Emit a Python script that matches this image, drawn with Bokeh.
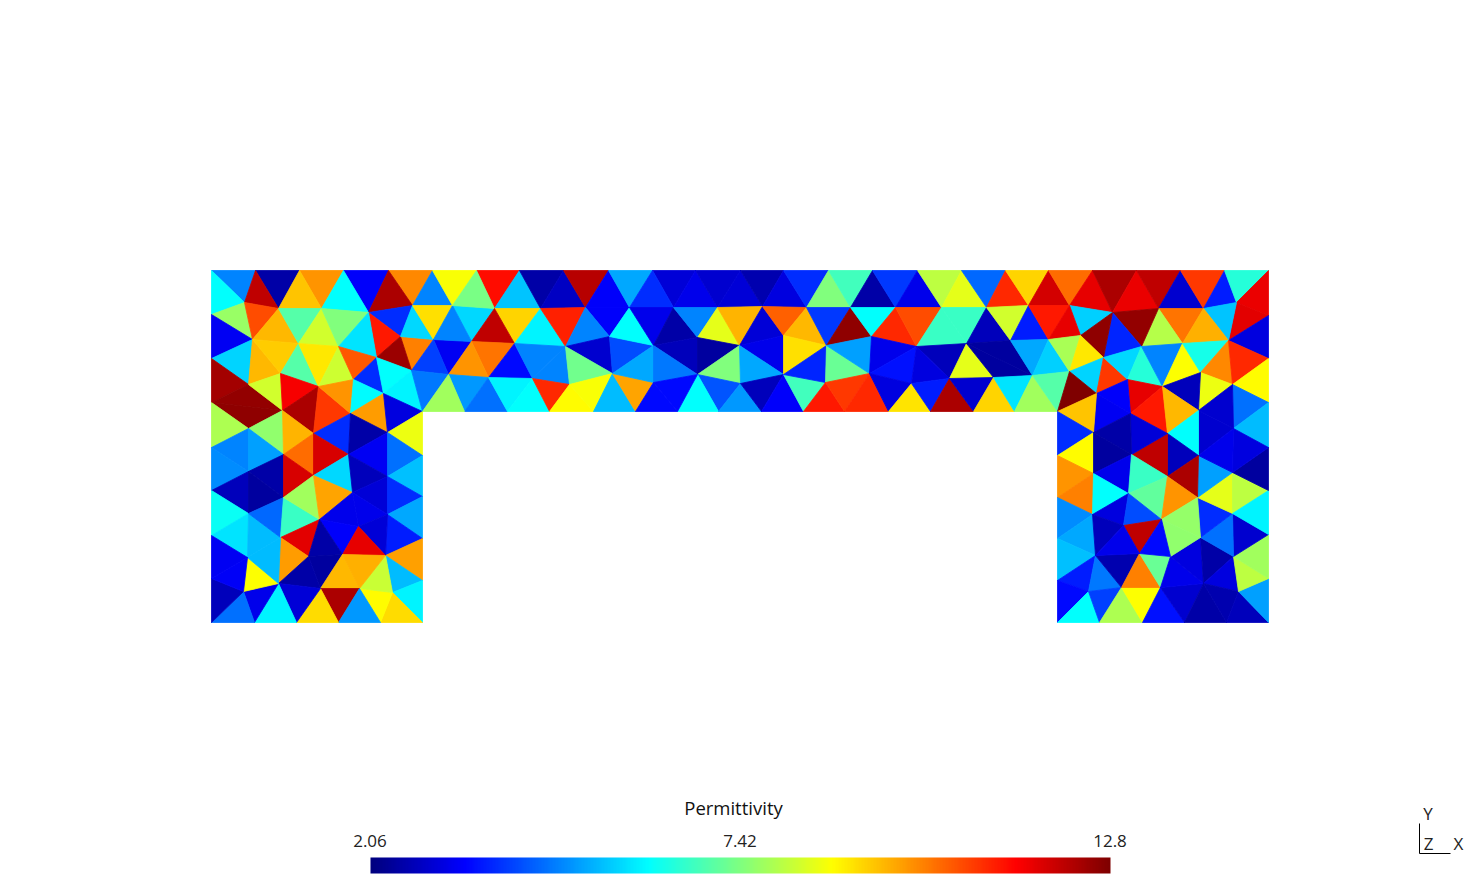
import numpy as np
from bokeh.core.properties import value
from bokeh.embed import file_html
from bokeh.models import ColumnDataSource, LinearColorMapper
from bokeh.plotting import figure
from bokeh.resources import INLINE
from bokeh.transform import transform

# mesh cells: x1, y1, x2, y2, x3, y3 (mesh units), permittivity
left_upper = [
(211,270,255,270,244,302,4.8),(211,270,244,302,211,314,6.1),(255,270,299,270,278,308,2.5),(255,270,278,308,244,302,12.1),
(299,270,343,270,321,308,9.9),(299,270,321,308,278,308,9.4),(343,270,388,270,368,312,3.4),(343,270,368,312,321,308,6.1),
(388,270,432,270,412,305,10.0),(388,270,412,305,368,312,12.3),(368,312,412,305,400,336,3.9),(368,312,400,336,376,357,11.2),
(400,336,433,339,411,370,10.1),(400,336,411,370,376,357,12.5),(412,305,433,339,400,336,5.7),
(211,314,244,302,252,339,7.7),(244,302,278,308,252,339,10.65),(278,308,298,343,252,339,9.5),(278,308,321,308,298,343,7.0),
(321,308,338,346,298,343,8.3),(321,308,368,312,338,346,7.45),(368,312,376,357,338,346,5.8),(211,314,252,339,211,358,3.3),
(211,358,252,339,248,384,5.65),(252,339,280,373,248,384,9.5),(252,339,298,343,280,373,9.3),(298,343,318,386,280,373,7.0),
(298,343,338,346,318,386,9.0),(338,346,353,379,318,386,8.25),(338,346,376,357,353,379,10.5),(376,357,383,393,353,379,3.9),
(376,357,411,370,383,393,6.1),(411,370,422,411,383,393,6.0),(211,358,248,384,211,402,12.4),(211,402,248,384,282,410,12.55),
(211,402,282,410,248,428,12.6),(248,384,280,373,282,410,8.3),(280,373,318,386,282,410,11.5),(282,410,318,386,313,433,12.3),
(318,386,350,413,313,433,10.85),(318,386,353,379,350,413,9.9),(353,379,383,393,350,413,6.05),(383,393,387,432,350,413,9.8),
(383,393,422,411,387,432,3.1),(387,432,422,411,422,455,8.6),(211,402,248,428,211,447,7.9),(248,428,282,410,283,454,7.6),
(282,410,313,433,283,454,9.55),(283,454,313,433,313,475,10.3),(313,433,350,413,348,454,3.9),(313,433,348,454,313,475,11.85),
(350,413,387,432,348,454,2.5),(348,454,387,432,387,476,3.3),(387,432,422,455,387,476,4.6),
]
left_lower = [
(211,447,248,428,248,471,4.8),(248,428,283,454,248,471,5.1),(211,447,248,471,211,490,4.9),(248,471,283,454,283,497,2.5),
(211,490,248,471,248,513,2.7),(248,471,283,497,248,513,2.4),(283,454,313,475,283,497,11.85),(313,475,348,454,352,492,5.7),
(348,454,387,476,352,492,2.7),(352,492,387,476,387,514,3.0),(387,476,422,455,422,496,5.45),(387,476,422,496,387,514,3.9),
(387,514,422,496,422,538,5.2),(387,514,422,538,385,555,3.7),(385,555,422,538,422,580,9.75),(385,555,422,580,392,592,5.4),
(392,592,422,580,422,622,6.0),(392,592,422,622,380,622,9.15),(359,588,392,592,380,622,8.8),(359,588,385,555,392,592,8.2),
(211,490,248,513,211,535,6.2),(211,535,248,513,247,557,5.8),(248,513,280,537,247,557,5.4),(248,513,283,497,280,537,4.5),
(283,497,319,519,280,537,6.7),(283,497,313,475,319,519,7.8),(313,475,352,492,319,519,9.7),(319,519,352,492,358,526,3.2),
(352,492,387,514,358,526,3.2),(358,526,387,514,385,555,3.0),(319,519,358,526,342,554,3.4),(358,526,385,555,342,554,11.7),
(280,537,319,519,308,556,11.75),(319,519,342,554,308,556,2.5),(308,556,342,554,320,588,2.4),(280,537,308,556,278,583,9.8),
(278,583,308,556,320,588,2.5),(342,554,359,588,320,588,9.5),(342,554,385,555,359,588,9.6),(320,588,359,588,338,622,12.3),
(359,588,380,622,338,622,5.0),(320,588,338,622,296,622,9.15),(278,583,320,588,296,622,3.0),(278,583,296,622,254,622,6.0),
(243,591,278,583,254,622,3.2),(211,622,243,591,254,622,4.6),(211,578,243,591,211,622,2.7),(247,557,278,583,243,591,8.75),
(247,557,280,537,278,583,5.4),(211,535,247,557,211,578,3.3),(211,578,247,557,243,591,3.35),
]
band_west = [
(432,270,452,305,412,305,4.8),(412,305,452,305,433,339,9.1),(433,339,471,341,448,374,3.3),(433,339,448,374,411,370,4.1),
(452,305,494,308,471,341,5.7),(452,305,471,341,433,339,4.8),(476,270,519,270,494,308,11.3),(432,270,476,270,452,305,8.7),
(476,270,494,308,452,305,7.35),(519,270,540,308,494,308,5.5),(519,270,563,270,540,308,2.5),(563,270,585,307,540,308,2.8),
(563,270,608,270,585,307,12.2),(608,270,629,307,585,307,3.4),(585,307,629,307,609,336,3.4),(608,270,652,270,629,307,5.2),
(494,308,540,308,514,343,9.2),(494,308,514,343,471,341,12.1),(540,308,565,346,514,343,6.0),(540,308,585,307,565,346,11.1),
(585,307,609,336,565,346,4.8),(471,341,514,343,488,377,10.2),(471,341,488,377,448,374,9.9),(514,343,532,378,488,377,3.5),
(514,343,565,346,532,378,4.8),(565,346,569,384,532,378,4.8),(565,346,609,336,612,373,2.9),(565,346,612,373,569,384,7.3),
(609,336,653,345,612,373,4.2),(629,307,653,345,609,336,6.1),(448,374,488,377,464,411,5.0),(488,377,507,411,464,411,4.6),
(411,370,448,374,422,411,4.7),(448,374,422,411,464,411,7.8),(488,377,532,378,507,411,6.0),(532,378,549,411,507,411,6.1),
(532,378,569,384,549,411,11.0),(569,384,593,411,549,411,8.8),(569,384,612,373,593,411,8.7),(612,373,635,411,593,411,5.4),
(612,373,653,382,635,411,9.7),(612,373,653,345,653,382,5.2),(635,411,653,382,677,411,3.5),
]
band_middle = [
(652,270,695,270,673,307,3.0),(652,270,673,307,629,307,3.9),(695,270,717,307,673,307,3.2),(695,270,740,270,717,307,2.9),
(740,270,762,306,717,307,3.0),(740,270,783,270,762,306,2.6),(783,270,806,307,762,306,3.1),(783,270,828,270,806,307,3.9),
(828,270,850,307,806,307,7.45),(828,270,872,270,850,307,6.8),(629,307,673,307,653,345,3.2),(673,307,697,337,653,345,2.5),
(673,307,717,307,697,337,4.8),(717,307,739,345,697,337,8.5),(717,307,762,306,739,345,9.55),(762,306,783,335,739,345,3.0),
(739,345,783,335,783,374,3.2),(762,306,806,307,783,335,10.45),(806,307,826,345,783,335,9.5),(783,335,826,345,783,374,9.1),
(806,307,850,307,826,345,4.0),(850,307,871,336,826,345,12.6),(653,345,697,337,697,374,2.7),(697,337,739,345,697,374,2.4),
(653,345,697,374,653,382,4.7),(697,374,739,345,740,383,7.45),(739,345,783,374,740,383,5.2),(697,374,740,383,718,411,4.3),
(697,374,718,411,677,411,6.1),(653,382,697,374,677,411,3.5),(740,383,761,411,718,411,5.0),(740,383,783,374,761,411,2.7),
(783,374,803,411,761,411,3.4),(783,374,825,382,803,411,6.8),(783,374,826,345,825,382,3.8),(826,345,869,373,825,382,7.2),
(826,345,871,336,869,373,5.1),(825,382,844,411,803,411,11.2),(825,382,869,373,844,411,10.85),(844,411,869,373,888,411,11.0),
]
band_east = [
(850,307,872,270,895,307,2.5),(872,270,917,270,895,307,4.0),(917,270,941,307,895,307,3.2),(917,270,961,270,941,307,8.1),
(961,270,986,307,941,307,8.5),(961,270,1005,270,986,307,4.5),(1005,270,1028,305,986,307,11.0),(1005,270,1048,270,1028,305,9.2),
(1048,270,1069,305,1028,305,11.9),(1048,270,1092,270,1069,305,10.3),(850,307,895,307,871,336,6.1),(895,307,916,346,871,336,11.0),
(895,307,941,307,916,346,10.65),(941,307,986,307,966,343,6.7),(941,307,966,343,916,346,6.7),(986,307,1010,340,966,343,2.7),
(986,307,1028,305,1010,340,8.3),(1028,305,1048,339,1010,340,3.7),(1028,305,1069,305,1048,339,11.2),(871,336,916,346,869,373,3.2),
(869,373,916,346,911,383,3.6),(916,346,966,343,949,378,2.7),(916,346,949,378,911,383,3.1),(966,343,993,377,949,378,8.5),
(966,343,1010,340,1032,375,2.4),(966,343,1032,375,993,377,2.4),(1010,340,1048,339,1032,375,5.2),(1048,339,1069,371,1032,375,5.6),
(869,373,911,383,888,411,3.1),(911,383,930,411,888,411,9.05),(911,383,949,378,930,411,3.7),(949,378,973,411,930,411,12.3),
(949,378,993,377,973,411,2.9),(993,377,1014,411,973,411,9.2),(993,377,1032,375,1014,411,5.8),(1032,375,1057,411,1014,411,7.8),
(1032,375,1069,371,1057,411,7.0),
]
right_upper = [
(1092,270,1112,312,1069,305,11.7),(1092,270,1136,270,1112,312,12.3),(1136,270,1158,308,1112,312,11.65),(1136,270,1180,270,1158,308,12.1),
(1180,270,1203,308,1158,308,2.9),(1180,270,1224,270,1203,308,10.85),(1224,270,1236,302,1203,308,3.7),(1224,270,1268,270,1236,302,6.5),
(1268,270,1268,315,1236,302,11.65),(1236,302,1268,315,1228,340,11.75),(1268,315,1268,358,1228,340,3.1),(1203,308,1236,302,1228,340,5.5),
(1158,308,1203,308,1182,343,10.2),(1203,308,1228,340,1182,343,9.6),(1158,308,1182,343,1141,346,8.0),(1112,312,1158,308,1141,346,12.55),
(1112,312,1141,346,1103,357,3.8),(1069,305,1112,312,1080,335,5.6),(1112,312,1103,357,1080,335,12.6),(1069,305,1080,335,1048,339,11.7),
(1048,339,1080,335,1069,371,7.85),(1080,335,1103,357,1069,371,9.0),(1069,371,1103,357,1096,393,5.65),(1103,357,1127,379,1096,393,10.85),
(1103,357,1141,346,1127,379,5.7),(1141,346,1162,386,1127,379,6.5),(1141,346,1182,343,1162,386,4.8),(1182,343,1200,372,1162,386,8.75),
(1182,343,1228,340,1200,372,6.3),(1228,340,1232,384,1200,372,10.0),(1228,340,1268,358,1232,384,11.0),(1268,358,1268,402,1232,384,8.8),
(1200,372,1232,384,1198,410,8.6),(1162,386,1200,372,1198,410,2.7),(1127,379,1162,386,1130,413,11.7),(1162,386,1167,433,1130,413,11.2),
(1162,386,1198,410,1167,433,9.5),(1096,393,1127,379,1130,413,3.4),(1096,393,1130,413,1093,432,3.3),(1069,371,1096,393,1057,411,12.8),
(1057,411,1096,393,1093,432,9.4),(1232,384,1268,402,1233,428,4.6),(1198,410,1232,384,1233,428,2.9),(1268,402,1268,447,1233,428,5.4),
]
right_lower = [
(1057,411,1093,432,1057,455,3.9),(1057,455,1093,432,1093,473,8.8),(1057,455,1093,473,1057,497,9.9),(1057,497,1093,473,1092,514,10.1),
(1057,497,1092,514,1057,538,4.9),(1057,538,1092,514,1095,555,5.2),(1057,538,1095,555,1057,580,5.45),(1057,580,1095,555,1088,591,3.7),
(1057,580,1088,591,1057,622,3.5),(1057,622,1088,591,1099,622,6.1),(1095,555,1121,587,1088,591,4.7),(1088,591,1121,587,1099,622,4.1),
(1099,622,1121,587,1142,622,7.9),(1121,587,1160,587,1142,622,8.75),(1095,555,1139,553,1121,587,2.6),(1121,587,1139,553,1160,587,10.1),
(1139,553,1170,556,1160,587,7.2),(1142,622,1160,587,1184,622,3.6),(1160,587,1203,583,1184,622,2.9),(1160,587,1170,556,1203,583,3.2),
(1170,556,1200,537,1203,583,3.1),(1200,537,1233,556,1203,583,2.5),(1203,583,1233,556,1238,591,3.1),(1184,622,1203,583,1226,622,2.5),
(1203,583,1238,591,1226,622,2.6),(1238,591,1268,622,1226,622,2.7),(1238,591,1268,578,1268,622,5.1),(1233,556,1268,578,1238,591,8.1),
(1233,556,1268,534,1268,578,7.8),(1232,513,1268,534,1233,556,2.9),(1200,537,1232,513,1233,556,4.6),(1197,497,1232,513,1200,537,3.9),
(1197,497,1232,472,1232,513,8.5),(1232,472,1268,490,1232,513,8.1),(1232,513,1268,490,1268,534,6.0),(1198,455,1232,472,1197,497,5.1),
(1232,472,1268,447,1268,490,2.4),(1233,428,1268,447,1232,472,3.1),(1198,410,1233,428,1198,455,2.9),(1198,455,1233,428,1232,472,3.2),
(1167,433,1198,410,1198,455,6.1),(1167,433,1198,455,1167,476,2.7),(1167,476,1198,455,1197,497,12.3),(1131,454,1167,433,1167,476,12.1),
(1130,413,1167,433,1131,454,3.0),(1093,432,1130,413,1131,454,2.5),(1093,432,1131,454,1093,473,2.4),(1093,473,1131,454,1128,493,3.2),
(1131,454,1167,476,1128,493,6.7),(1128,493,1167,476,1161,519,7.1),(1167,476,1197,497,1161,519,9.9),(1161,519,1197,497,1200,537,7.65),
(1161,519,1200,537,1170,556,7.6),(1093,473,1128,493,1092,514,6.1),(1092,514,1128,493,1123,525,3.1),(1128,493,1161,519,1123,525,4.2),
(1123,525,1161,519,1139,553,12.1),(1161,519,1170,556,1139,553,3.5),(1092,514,1123,525,1095,555,2.7),(1095,555,1123,525,1139,553,3.2),
]

scale_min, scale_mid, scale_max = 2.06, 7.42, 12.8
scale_labels = ["2.06", "7.42", "12.8"]
scale_title = "Permittivity"
triad_labels = ["Y", "Z", "X"]

# page layout in mesh units
bar_left, bar_right, bar_top, bar_bottom = 370, 1110, 857, 873
label_x, label_y = [369.5, 739.5, 1109.5], 840
title_x, title_y = 733, 806.5
triad_x, triad_y = [1427.5, 1428, 1458], [813, 843, 843]
triad_x0, triad_x1, triad_y0, triad_y1 = 1419, 1450, 823, 853

# jet colour scale
t = np.linspace(0, 1, 256)
r = np.interp(t, [0, .375, .625, .875, 1], [0, 0, 1, 1, .5])
g = np.interp(t, [0, .125, .375, .625, .875, 1], [0, 0, 1, 1, 0, 0])
b = np.interp(t, [0, .125, .375, .625, 1], [.5, 1, 1, 0, 0])
jet = ["#%02x%02x%02x" % (int(a * 255), int(c * 255), int(d * 255)) for a, c, d in zip(r, g, b)]
mapper = LinearColorMapper(palette=jet, low=scale_min, high=scale_max)

cells = left_upper + left_lower + band_west + band_middle + band_east + right_upper + right_lower
mesh = ColumnDataSource(dict(
    xs=[[c[0], c[2], c[4]] for c in cells],
    ys=[[c[1], c[3], c[5]] for c in cells],
    v=[c[6] for c in cells],
))

p = figure(width=1464, height=877, x_range=(0, 1464), y_range=(877, 0),
           output_backend="svg", toolbar_location=None, min_border=0,
           background_fill_color="white", border_fill_color="white")
p.axis.visible = False
p.grid.visible = False
p.outline_line_color = None

p.patches("xs", "ys", source=mesh, fill_color=transform("v", mapper),
          line_color=transform("v", mapper), line_width=0.8)

stops = np.linspace(scale_min, scale_max, 740).reshape(1, -1)
p.image(image=[stops], x=bar_left, y=bar_top, dw=bar_right - bar_left, dh=bar_bottom - bar_top,
        color_mapper=mapper)

font = value("Open Sans")
p.text(x=label_x, y=[label_y] * 3, text=scale_labels, text_font=font, text_font_size="17px",
       text_align="center", text_baseline="middle", text_color="#222222")
p.text(x=[title_x], y=[title_y], text=[scale_title], text_font=font, text_font_size="18.5px",
       text_align="center", text_baseline="middle", text_color="#111111")
p.text(x=triad_x, y=triad_y, text=triad_labels, text_font=font, text_font_size="17px",
       text_align="center", text_baseline="middle", text_color="#222222")
p.segment(x0=[triad_x0, triad_x0], y0=[triad_y0, triad_y1], x1=[triad_x0, triad_x1], y1=[triad_y1, triad_y1],
          line_color="black", line_width=1)

open("out.html", "w").write(file_html(p, INLINE))
